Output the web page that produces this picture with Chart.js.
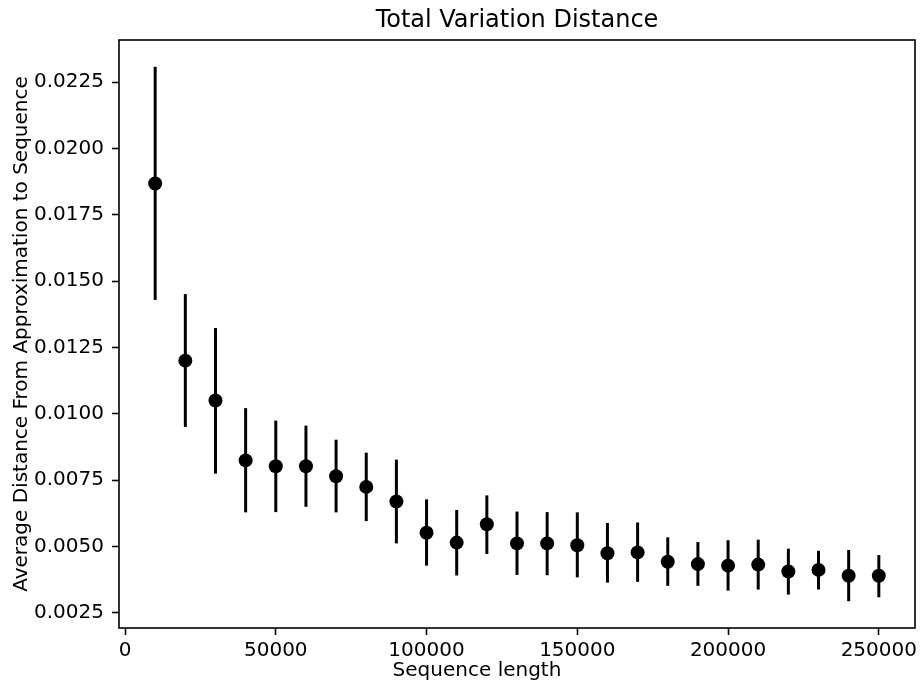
<!DOCTYPE html>
<html>
<head>
<meta charset="utf-8">
<title>Total Variation Distance</title>
<script src="https://cdn.jsdelivr.net/npm/chart.js@4.4.1/dist/chart.umd.min.js"></script>
<style>
  html, body { margin: 0; padding: 0; background: #fff; }
  #wrap { width: 922px; height: 685px; position: relative; }
</style>
</head>
<body>
<div id="wrap"><canvas id="tvdChart"></canvas></div>
<script>
// data
var seqLength = [10000, 20000, 30000, 40000, 50000, 60000, 70000, 80000, 90000, 100000,
                 110000, 120000, 130000, 140000, 150000, 160000, 170000, 180000, 190000, 200000,
                 210000, 220000, 230000, 240000, 250000];
var meanDist = [0.01868, 0.01200, 0.01050, 0.00824, 0.00802, 0.00802, 0.00764, 0.00724, 0.00669, 0.00551,
                0.00514, 0.00583, 0.00511, 0.00511, 0.00504, 0.00474, 0.00477, 0.00442, 0.00433, 0.00427,
                0.00431, 0.00405, 0.00411, 0.00389, 0.00389];
var lowerDist = [0.01429, 0.00950, 0.00774, 0.00628, 0.00629, 0.00649, 0.00628, 0.00595, 0.00511, 0.00427,
                 0.00390, 0.00471, 0.00392, 0.00391, 0.00383, 0.00363, 0.00366, 0.00351, 0.00351, 0.00333,
                 0.00337, 0.00318, 0.00337, 0.00293, 0.00308];
var upperDist = [0.02308, 0.01451, 0.01323, 0.01021, 0.00974, 0.00955, 0.00902, 0.00853, 0.00827, 0.00677,
                 0.00637, 0.00692, 0.00631, 0.00629, 0.00628, 0.00588, 0.00590, 0.00534, 0.00516, 0.00523,
                 0.00525, 0.00491, 0.00483, 0.00486, 0.00467];
var xTicks = [0, 50000, 100000, 150000, 200000, 250000];
var yTicks = [0.0025, 0.0050, 0.0075, 0.0100, 0.0125, 0.0150, 0.0175, 0.0200, 0.0225];

var chartTitle = 'Total Variation Distance';
var xTitle = 'Sequence length';
var yTitle = 'Average Distance From Approximation to Sequence';

var FONT = '"DejaVu Sans", "Liberation Sans", sans-serif';

// vertical error bars, drawn under the markers
var errorBars = {
  id: 'errorBars',
  beforeDatasetsDraw: function (chart) {
    var ctx = chart.ctx, x = chart.scales.x, y = chart.scales.y;
    ctx.save();
    ctx.strokeStyle = '#000';
    ctx.lineWidth = 3;
    for (var i = 0; i < seqLength.length; i++) {
      var px = x.getPixelForValue(seqLength[i]);
      ctx.beginPath();
      ctx.moveTo(px, y.getPixelForValue(lowerDist[i]));
      ctx.lineTo(px, y.getPixelForValue(upperDist[i]));
      ctx.stroke();
    }
    ctx.restore();
  }
};

// axes box plus the title and axis labels
var frameAndText = {
  id: 'frameAndText',
  afterDraw: function (chart) {
    var ctx = chart.ctx, a = chart.chartArea;
    ctx.save();
    ctx.strokeStyle = '#000';
    ctx.lineWidth = 1.6;
    ctx.strokeRect(a.left, a.top, a.right - a.left, a.bottom - a.top);

    ctx.fillStyle = '#000';
    ctx.textBaseline = 'alphabetic';
    ctx.textAlign = 'center';
    ctx.font = '24px ' + FONT;
    ctx.fillText(chartTitle, (a.left + a.right) / 2, 27);

    ctx.font = '20px ' + FONT;
    ctx.fillText(xTitle, 477, 676);

    ctx.translate(27, (a.top + a.bottom) / 2);
    ctx.rotate(-Math.PI / 2);
    ctx.fillText(yTitle, 0, 0);
    ctx.restore();
  }
};

var points = seqLength.map(function (v, i) { return { x: v, y: meanDist[i] }; });

new Chart(document.getElementById('tvdChart').getContext('2d'), {
  type: 'scatter',
  data: {
    datasets: [{
      data: points,
      backgroundColor: '#000',
      borderColor: '#000',
      borderWidth: 0,
      pointRadius: 7,
      pointHoverRadius: 7
    }]
  },
  options: {
    responsive: true,
    maintainAspectRatio: false,
    animation: false,
    events: [],
    layout: { padding: { top: 40, right: 6, left: 0, bottom: 0 } },
    plugins: {
      legend: { display: false },
      title: { display: false },
      tooltip: { enabled: false }
    },
    scales: {
      x: {
        type: 'linear',
        min: -2000,
        max: 262000,
        border: { display: false },
        grid: { drawOnChartArea: false, drawTicks: true, tickLength: 7, tickWidth: 1.6, tickColor: '#000' },
        ticks: {
          color: '#000',
          font: { family: FONT, size: 20 },
          padding: 4,
          maxRotation: 0,
          callback: function (v) { return String(v); }
        },
        afterBuildTicks: function (scale) {
          scale.ticks = xTicks.map(function (v) { return { value: v }; });
        },
        afterFit: function (scale) { scale.height = 57; }
      },
      y: {
        type: 'linear',
        min: 0.00192,
        max: 0.02409,
        border: { display: false },
        grid: { drawOnChartArea: false, drawTicks: true, tickLength: 7, tickWidth: 1.6, tickColor: '#000' },
        ticks: {
          color: '#000',
          font: { family: FONT, size: 20 },
          padding: 8,
          callback: function (v) { return v.toFixed(4); }
        },
        afterBuildTicks: function (scale) {
          scale.ticks = yTicks.map(function (v) { return { value: v }; });
        },
        afterFit: function (scale) { scale.width = 119; }
      }
    }
  },
  plugins: [errorBars, frameAndText]
});
</script>
</body>
</html>
